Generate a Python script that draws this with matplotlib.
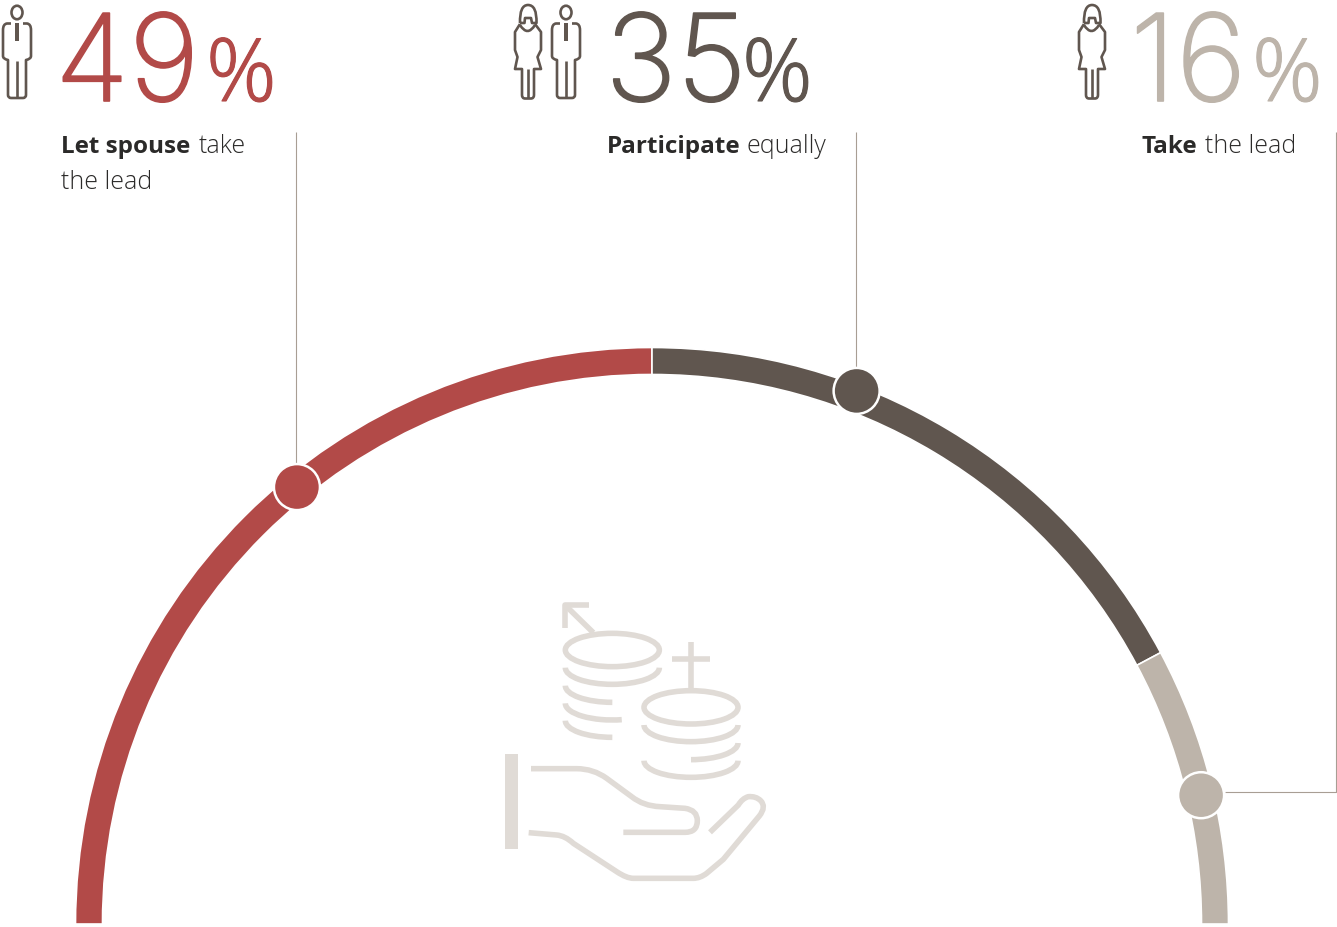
import matplotlib
matplotlib.use("Agg")
import matplotlib.pyplot as plt
import matplotlib.patheffects as pe
from matplotlib.patches import Wedge, Circle, Ellipse, Rectangle, PathPatch, Arc
from matplotlib.path import Path
import numpy as np

# DATA
percent_values = [49, 35, 16]
bold_labels = ["Let spouse", "Participate", "Take"]
light_labels = ["take", "equally", "the lead"]
# share of the half ring as drawn in the picture
arc_shares = [50.0, 34.4, 15.6]
marker_angles = [50.9, 111.0, 166.8]  # degrees from the left end
marker_radii = [563, 571, 564]

RED = "#b24a48"
DARK = "#60564f"
TAN = "#bdb4aa"
ICON = "#e0dbd6"
INK = "#2b2a29"
LEADER = "#a89e94"
colors = [RED, DARK, TAN]

FONT = "Open Sans"
NUM_FONT = "Inter"
CX, CY = 652, 924
R_OUT, R_IN = 576.5, 549.5

fig = plt.figure(figsize=(13.37, 9.27), dpi=100)
ax = fig.add_axes([0, 0, 1, 1])
ax.set_xlim(0, 1337)
ax.set_ylim(927, 0)
ax.axis("off")


def line(pts, color=DARK, lw=1.9, cap="butt"):
    xs, ys = zip(*pts)
    ax.plot(xs, ys, color=color, lw=lw, solid_capstyle=cap, solid_joinstyle="round")


def curve(verts, codes, color=DARK, lw=1.9):
    ax.add_patch(PathPatch(Path(verts, codes), fc="none", ec=color, lw=lw,
                           capstyle="butt", joinstyle="round"))


M, L, C3 = Path.MOVETO, Path.LINETO, Path.CURVE3


def man(dx):
    ax.add_patch(Ellipse((17 + dx, 12.5), 11, 13.5, fc="none", ec=DARK, lw=1.9))
    verts = [(11, 23.5), (7, 23.5), (3, 24), (3, 30), (3, 56), (3, 59), (8, 60), (8, 95), (8, 98), (11, 98),
             (23, 98), (26, 98), (26, 95), (26, 60), (31, 59), (31, 56), (31, 30), (31, 24), (27, 23.5), (23, 23.5)]
    codes = [M, L, C3, C3, L, C3, C3, L, C3, C3, L, C3, C3, L, C3, C3, L, C3, C3, L]
    curve([(x + dx, y) for x, y in verts], codes)
    line([(17 + dx, 61), (17 + dx, 98)])
    ax.add_patch(Rectangle((14.8 + dx, 23), 4.4, 18, fc=DARK, ec="none"))


def woman(dx):
    hair = [(20, 23), (19.5, 5), (28, 5), (37, 5), (36.5, 23), (32, 23), (31, 18), (25, 18), (24.5, 23), (20, 23)]
    codes = [M, C3, C3, C3, C3, L, L, L, L, L]
    curve([(x + dx, y) for x, y in hair], codes)
    body = [(20, 24), (15, 32), (15, 50), (17.5, 57), (15, 69), (22, 69), (22, 95), (22, 98.5), (25, 98.5),
            (31, 98.5), (34, 98.5), (34, 95), (34, 69), (41, 69), (37.5, 57), (41, 50), (41, 32), (35, 24)]
    codes = [M, L, L, L, L, L, L, C3, C3, L, C3, C3, L, L, L, L, L, L]
    curve([(x + dx, y) for x, y in body], codes)
    curve([(20 + dx, 25), (27.5 + dx, 37), (35 + dx, 25)], [M, C3, C3])
    line([(27.7 + dx, 69), (27.7 + dx, 98)])


def z(pts):
    return [(490 + x / 3, 590 + y / 3) for x, y in pts]


def coin_arc(cx, cy, theta1, theta2):
    ax.add_patch(Arc(z([(cx, cy)])[0], 282 / 3, 100 / 3, theta1=theta1, theta2=theta2,
                     color=ICON, lw=4, capstyle="butt"))


# ring
start = 180.0
for share, color in zip(arc_shares, colors):
    end = start + share * 1.8
    ax.add_patch(Wedge((CX, CY), R_OUT, start, end, width=R_OUT - R_IN, fc=color,
                       ec="white", lw=1.2))
    start = end
# the ring stops at the bottom of the picture
ax.add_patch(Rectangle((0, 924), 1337, 4, fc="white", ec="none", zorder=2))

# leader lines
line([(296.2, 132), (296.2, 466)], color=LEADER, lw=0.8)
line([(856.2, 132), (856.2, 369)], color=LEADER, lw=0.8)
line([(1336.3, 132), (1336.3, 792), (1225, 792)], color=LEADER, lw=0.8)

# markers on the ring
for angle, radius, color in zip(marker_angles, marker_radii, colors):
    a = np.radians(180 + angle)
    ax.add_patch(Circle((CX + radius * np.cos(a), CY + radius * np.sin(a)), 23,
                        fc=color, ec="white", lw=1.8, zorder=3))

# big numbers
num_x = [55, 605, 1130]
pct_x = [206, 742, 1252]
for v, nx, px, c in zip(percent_values, num_x, pct_x, colors):
    ax.text(nx, 101, str(v), fontsize=87, family=NUM_FONT, weight="light", color=c,
            ha="left", va="baseline",
            path_effects=[pe.withStroke(linewidth=1.2, foreground=c)])
    ax.text(px, 101, "%", fontsize=63, family=FONT, weight="light", color=c,
            ha="left", va="baseline",
            path_effects=[pe.withStroke(linewidth=0.8, foreground=c)])

# labels
bold_x = [61, 607, 1142]
light_x = [199, 746, 1205]
for b, l, bx, lx in zip(bold_labels, light_labels, bold_x, light_x):
    ax.text(bx, 153, b, fontsize=17.5, family=FONT, weight="bold", color=INK, va="baseline")
    ax.text(lx, 153, l, fontsize=18, family=FONT, weight="light", color=INK, va="baseline")
ax.text(61, 189, "the lead", fontsize=18, family=FONT, weight="light", color=INK, va="baseline")

# people
man(0)
woman(500)
man(549)
woman(1064)

# coins and hand
ax.add_patch(Ellipse(z([(367, 180)])[0], 282 / 3, 100 / 3, fc="none", ec=ICON, lw=4))
ax.add_patch(Ellipse(z([(603, 352)])[0], 282 / 3, 100 / 3, fc="none", ec=ICON, lw=4))
coin_arc(367, 233, 0, 180)
coin_arc(367, 287, 90, 180)
coin_arc(367, 340, 60, 180)
coin_arc(367, 392, 90, 180)
coin_arc(603, 405, 0, 180)
coin_arc(603, 459, 0, 90)
coin_arc(603, 512, 0, 180)
line(z([(310, 128), (228, 48)]), color=ICON, lw=4)
line(z([(296, 45), (224, 45), (224, 113)]), color=ICON, lw=4)
line(z([(603, 155), (603, 296)]), color=ICON, lw=4)
line(z([(546, 207), (660, 207)]), color=ICON, lw=4)
ax.add_patch(Rectangle(z([(45, 492)])[0], 39 / 3, 284 / 3, fc=ICON, ec="none"))

curve(z([(123, 536), (260, 536), (310, 536), (350, 565), (425, 620), (460, 648), (510, 650),
         (585, 655), (622, 660), (622, 692), (622, 727), (585, 727), (400, 727)]),
      [M, L, C3, C3, L, C3, C3, L, C3, C3, C3, C3, L], color=ICON, lw=4)
curve(z([(116, 728), (200, 735), (225, 737), (250, 760), (380, 845), (410, 865), (430, 865),
         (610, 865), (630, 865), (650, 850), (700, 808), (808, 678), (830, 650), (812, 632),
         (798, 618), (775, 620), (757, 625), (745, 645), (660, 727)]),
      [M, L, C3, C3, L, C3, C3, L, C3, C3, L, L, C3, C3, C3, C3, C3, C3, L], color=ICON, lw=4)

fig.savefig("out.png", dpi=100)
plt.close(fig)
